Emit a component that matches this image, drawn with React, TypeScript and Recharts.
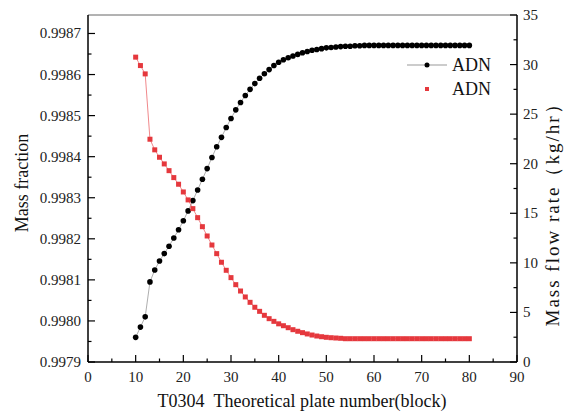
import React from "react";
import { LineChart, Line, XAxis, YAxis, ReferenceLine } from "recharts";

// theoretical plate number (block)
const plates = [
  10, 11, 12, 13, 14, 15, 16, 17, 18, 19, 20, 21, 22, 23, 24, 25, 26, 27, 28, 29,
  30, 31, 32, 33, 34, 35, 36, 37, 38, 39, 40, 41, 42, 43, 44, 45, 46, 47, 48, 49,
  50, 51, 52, 53, 54, 55, 56, 57, 58, 59, 60, 61, 62, 63, 64, 65, 66, 67, 68, 69,
  70, 71, 72, 73, 74, 75, 76, 77, 78, 79, 80,
];

// ADN mass fraction (left axis)
const massFraction = [
  0.99796, 0.997985, 0.99801, 0.998095, 0.998124, 0.998146, 0.998164, 0.998182, 0.998202, 0.998222,
  0.998244, 0.998268, 0.998293, 0.998319, 0.998345, 0.998371, 0.998398, 0.998424, 0.998447, 0.998471,
  0.998493, 0.998514, 0.998532, 0.998549, 0.998564, 0.998578, 0.998591, 0.998602, 0.998612, 0.998622,
  0.99863, 0.998636, 0.998641, 0.998645, 0.998649, 0.998653, 0.998656, 0.998659, 0.998661, 0.998663,
  0.998665, 0.998666, 0.998667, 0.998668, 0.998669, 0.998669, 0.99867, 0.99867, 0.998671, 0.998671,
  0.998671, 0.998671, 0.998671, 0.998671, 0.998671, 0.998671, 0.998671, 0.998671, 0.998671, 0.998671,
  0.998671, 0.998671, 0.998671, 0.998671, 0.998671, 0.998671, 0.998671, 0.998671, 0.998671, 0.998671,
  0.998671,
];

// ADN mass flow rate, kg/hr (right axis)
const flowRate = [
  30.75, 29.9, 29.06, 22.47, 21.4, 20.65, 19.98, 19.3, 18.6, 17.93,
  17.15, 16.35, 15.47, 14.56, 13.65, 12.71, 11.8, 10.93, 10.06, 9.25,
  8.51, 7.8, 7.16, 6.56, 6.02, 5.52, 5.11, 4.71, 4.37, 4.1,
  3.85, 3.66, 3.46, 3.26, 3.1, 2.96, 2.83, 2.72, 2.62, 2.55,
  2.49, 2.45, 2.42, 2.39, 2.35, 2.35, 2.35, 2.35, 2.35, 2.35,
  2.35, 2.35, 2.35, 2.35, 2.35, 2.35, 2.35, 2.35, 2.35, 2.35,
  2.35, 2.35, 2.35, 2.35, 2.35, 2.35, 2.35, 2.35, 2.35, 2.35,
  2.35,
];

const xTicks = [0, 5, 10, 15, 20, 25, 30, 35, 40, 45, 50, 55, 60, 65, 70, 75, 80, 85, 90];
const leftTicks = [
  0.9979, 0.99795, 0.998, 0.99805, 0.9981, 0.99815, 0.9982, 0.99825, 0.9983,
  0.99835, 0.9984, 0.99845, 0.9985, 0.99855, 0.9986, 0.99865, 0.9987,
];
const rightTicks = [0, 2.5, 5, 7.5, 10, 12.5, 15, 17.5, 20, 22.5, 25, 27.5, 30, 32.5, 35];
const LEFT_MAX = 0.998745;

const data = plates.map((x, i) => ({ x, frac: massFraction[i], flow: flowRate[i] }));

const FONT = "'Liberation Serif', 'Times New Roman', serif";
const RED = "#e5383d";

const XTick = (props: any) => {
  const { x, y, payload } = props;
  const major = payload.value % 10 === 0;
  return (
    <g>
      <line x1={x} x2={x} y1={y} y2={y - (major ? 7 : 3.5)} stroke="#000" strokeWidth={1.2} />
      {major && (
        <text x={x} y={y + 20} textAnchor="middle" fontSize={15} fontFamily={FONT} fill="#222">
          {payload.value}
        </text>
      )}
    </g>
  );
};

const LeftTick = (props: any) => {
  const { x, y, payload } = props;
  const major = Math.round(payload.value * 20000) % 2 === 0;
  return (
    <g>
      <line x1={x} x2={x + (major ? 7 : 3.5)} y1={y} y2={y} stroke="#000" strokeWidth={1.2} />
      {major && (
        <text x={x - 7} y={y + 5} textAnchor="end" fontSize={15} fontFamily={FONT} fill="#222">
          {payload.value.toFixed(4)}
        </text>
      )}
    </g>
  );
};

const RightTick = (props: any) => {
  const { x, y, payload } = props;
  const major = payload.value % 5 === 0;
  return (
    <g>
      <line x1={x} x2={x - (major ? 7 : 3.5)} y1={y} y2={y} stroke="#000" strokeWidth={1.2} />
      {major && (
        <text x={x + 6} y={y + 5} textAnchor="start" fontSize={15} fontFamily={FONT} fill="#222">
          {payload.value}
        </text>
      )}
    </g>
  );
};

const XTitle = () => (
  <text x={302} y={407} textAnchor="middle" fontSize={18} fontFamily={FONT} fill="#111">
    T0304{"\u00a0\u00a0"}Theoretical plate number(block)
  </text>
);

const LeftTitle = () => (
  <text x={28} y={183} transform="rotate(-90, 28, 183)" textAnchor="middle" fontSize={18} fontFamily={FONT} fill="#111">
    Mass fraction
  </text>
);

const RightTitle = () => (
  <text
    x={559}
    y={210}
    transform="rotate(-90, 559, 210)"
    textAnchor="middle"
    fontSize={19}
    letterSpacing={2}
    fontFamily={FONT}
    fill="#111"
  >
    Mass flow rate（kg/hr）
  </text>
);

const Circle = (props: any) => {
  const { cx, cy, index } = props;
  return <circle key={`c${index}`} cx={cx} cy={cy} r={2.8} fill="#000" />;
};

const Square = (props: any) => {
  const { cx, cy, index } = props;
  return <rect key={`s${index}`} x={cx - 2.5} y={cy - 2.5} width={5} height={5} fill={RED} />;
};

const LegendBox = () => (
  <div
    style={{
      position: "absolute",
      left: 404,
      top: 53,
      fontFamily: FONT,
      fontSize: 18,
      color: "#111",
      lineHeight: "24px",
    }}
  >
    <div style={{ display: "flex", alignItems: "center" }}>
      <svg width={46} height={12}>
        <line x1={3} x2={43} y1={6} y2={6} stroke="#999" strokeWidth={1} />
        <circle cx={23} cy={6} r={2.5} fill="#000" />
      </svg>
      <span style={{ marginLeft: 2 }}>ADN</span>
    </div>
    <div style={{ display: "flex", alignItems: "center" }}>
      <svg width={46} height={12}>
        <rect x={21} y={4} width={4} height={4} fill={RED} />
      </svg>
      <span style={{ marginLeft: 2 }}>ADN</span>
    </div>
  </div>
);

export default function App() {
  return (
    <div style={{ position: "absolute", left: 0, top: 0, width: 571, height: 417, background: "#fff" }}>
      <LineChart width={571} height={417} data={data} margin={{ top: 15, right: 0, bottom: 0, left: 0 }}>
        <XAxis
          dataKey="x"
          type="number"
          domain={[0, 90]}
          ticks={xTicks}
          interval={0}
          tickSize={0}
          tickMargin={0}
          tick={<XTick />}
          height={55}
          axisLine={{ stroke: "#000", strokeWidth: 1.5 }}
          label={<XTitle />}
        />
        <YAxis
          yAxisId="left"
          domain={[0.9979, LEFT_MAX]}
          ticks={leftTicks}
          interval={0}
          tickSize={0}
          tickMargin={0}
          tick={<LeftTick />}
          width={88}
          axisLine={{ stroke: "#000", strokeWidth: 1.5 }}
          allowDataOverflow
          label={<LeftTitle />}
        />
        <YAxis
          yAxisId="right"
          orientation="right"
          domain={[0, 35]}
          ticks={rightTicks}
          interval={0}
          tickSize={0}
          tickMargin={0}
          tick={<RightTick />}
          width={54}
          axisLine={{ stroke: "#000", strokeWidth: 1.5 }}
          label={<RightTitle />}
        />
        <ReferenceLine yAxisId="left" y={LEFT_MAX} stroke="#666" strokeWidth={1} />
        <Line
          yAxisId="left"
          dataKey="frac"
          stroke="#777"
          strokeWidth={0.6}
          dot={<Circle />}
          activeDot={false}
          isAnimationActive={false}
        />
        <Line
          yAxisId="right"
          dataKey="flow"
          stroke={RED}
          strokeWidth={0.6}
          dot={<Square />}
          activeDot={false}
          isAnimationActive={false}
        />
      </LineChart>
      <LegendBox />
    </div>
  );
}
